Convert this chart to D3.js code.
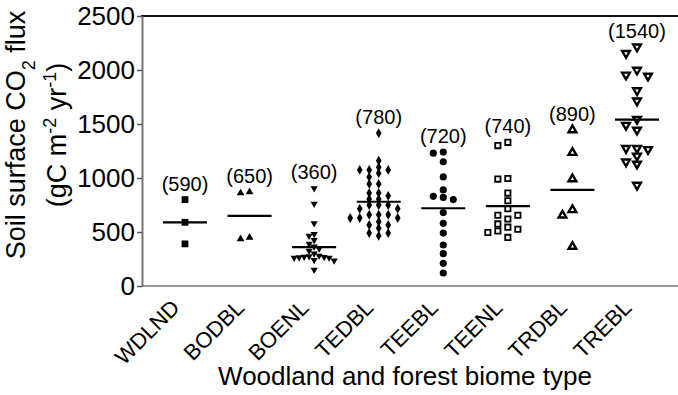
<!DOCTYPE html>
<html>
<head>
<meta charset="utf-8">
<script src="https://cdn.jsdelivr.net/npm/d3@7"></script>
<style>
  body { margin: 0; background: #fff; }
  svg { display: block; }
  text { font-family: "Liberation Sans", Arial, sans-serif; fill: #000; }
</style>
</head>
<body>
<svg id="chart" width="678" height="395"></svg>
<script>
// Biome types along the x axis
const categories = ["WDLND", "BODBL", "BOENL", "TEDBL", "TEEBL", "TEENL", "TRDBL", "TREBL"];

// Group means shown above each column (and drawn as the horizontal bar)
const meanValues = [590, 650, 360, 780, 720, 740, 890, 1540];

// Individual site observations, gC m-2 yr-1
const wdlnd = [800, 590, 390];
const bodbl = [870, 860, 450, 435];
const boenl = [905, 760, 580, 480, 465, 425, 390, 365, 345, 325, 300, 280, 275, 270, 268, 265, 262, 260, 240, 235, 150];
const tedbl = [1415, 1160, 1100, 1075, 1075, 1075, 1045, 1010, 945, 945, 860, 860, 835, 805, 805, 750, 750, 750, 715, 715, 660, 660, 660, 630, 630, 630, 595, 565, 565, 535, 490, 490, 465];
const teebl = [1240, 1230, 1150, 1010, 890, 830, 820, 800, 680, 580, 490, 380, 300, 210, 120];
const teenl = [1330, 1300, 995, 990, 860, 790, 715, 655, 655, 620, 575, 545, 525, 510, 495, 450];
const trdbl = [1445, 1235, 990, 705, 655, 365];
const trebl = [2215, 2155, 2000, 1955, 1945, 1810, 1715, 1545, 1490, 1445, 1275, 1275, 1265, 1205, 1150, 1130, 935];

const yTicks = [0, 500, 1000, 1500, 2000, 2500];

const series = [wdlnd, bodbl, boenl, tedbl, teebl, teenl, trdbl, trebl];

// Marker style for each column
const markers = [
  { shape: d3.symbolSquare,   size: 46, fill: "#000", stroke: "none", sw: 0,   rot: 0,   step: 10, h: 7 },
  { shape: d3.symbolTriangle, size: 26, fill: "#000", stroke: "none", sw: 0,   rot: 0,   step: 9,  h: 7 },
  { shape: d3.symbolTriangle, size: 22, fill: "#000", stroke: "none", sw: 0,   rot: 180, step: 5,  h: 5 },
  { shape: d3.symbolDiamond,  size: 28, fill: "#000", stroke: "none", sw: 0,   rot: 0,   step: 9.5, h: 5 },
  { shape: d3.symbolCircle,   size: 40, fill: "#000", stroke: "none", sw: 0,   rot: 0,   step: 10, h: 7 },
  { shape: d3.symbolSquare,   size: 28, fill: "#fff", stroke: "#000", sw: 1.8, rot: 0,   step: 10, h: 7 },
  { shape: d3.symbolTriangle, size: 26, fill: "#fff", stroke: "#000", sw: 2.4, rot: 0,   step: 10, h: 7 },
  { shape: d3.symbolTriangle, size: 26, fill: "#fff", stroke: "#000", sw: 2.4, rot: 180, step: 11, h: 7 }
];

const svg = d3.select("#chart");
const plotLeft = 142, plotRight = 680, plotTop = 16, plotBottom = 286;

const x = d3.scalePoint().domain(categories).range([plotLeft, plotRight]).padding(0.666);
const y = d3.scaleLinear().domain([0, 2500]).range([plotBottom, plotTop]);

// Spread points of similar value side by side, column-scatter style
function swarm(values, step, h) {
  const pts = values.map(v => ({ v, py: y(v) })).sort((a, b) => a.py - b.py);
  const placed = [];
  for (const p of pts) {
    for (let k = 0; k < 40; k++) {
      const off = k === 0 ? 0 : (k % 2 ? -Math.ceil(k / 2) : Math.ceil(k / 2));
      const dx = off * step;
      const hit = placed.some(q => Math.abs(q.dx - dx) < step * 0.5 && Math.abs(q.py - p.py) < h);
      if (!hit) { p.dx = dx; break; }
    }
    placed.push(p);
  }
  return pts;
}

// Frame: top rule and axes
svg.append("line")
  .attr("x1", plotLeft - 1).attr("x2", 678).attr("y1", plotTop).attr("y2", plotTop)
  .attr("stroke", "#111").attr("stroke-width", 2);

svg.append("line")
  .attr("x1", plotLeft).attr("x2", 678).attr("y1", plotBottom).attr("y2", plotBottom)
  .attr("stroke", "#777").attr("stroke-width", 1.6);

const yAxis = svg.append("g")
  .attr("transform", `translate(${plotLeft},0)`)
  .call(d3.axisLeft(y).tickValues(yTicks).tickFormat(d3.format("d"))
    .tickSize(5).tickPadding(2).tickSizeOuter(0));
yAxis.select(".domain").attr("stroke", "#777").attr("stroke-width", 2);
yAxis.selectAll(".tick line").attr("stroke", "#555").attr("stroke-width", 1.5);
yAxis.selectAll(".tick text")
  .style("font-family", "'Liberation Sans', Arial, sans-serif")
  .style("font-size", "26px").attr("fill", "#000");

// Points, mean bars and mean labels
categories.forEach((cat, i) => {
  const cx = x(cat);
  const m = markers[i];
  const sym = d3.symbol().type(m.shape).size(m.size);
  const pts = swarm(series[i], m.step, m.h);
  const g = svg.append("g");
  g.selectAll("path").data(pts).join("path")
    .attr("d", sym)
    .attr("transform", d => `translate(${cx + d.dx},${d.py}) rotate(${m.rot})`)
    .attr("fill", m.fill)
    .attr("stroke", m.stroke)
    .attr("stroke-width", m.sw)
    .attr("stroke-linejoin", "miter");

  g.append("line")
    .attr("x1", cx - 22).attr("x2", cx + 22)
    .attr("y1", y(meanValues[i])).attr("y2", y(meanValues[i]))
    .attr("stroke", "#000").attr("stroke-width", 2.2);

  g.append("text")
    .attr("x", cx).attr("y", y(d3.max(series[i])) - 9)
    .attr("text-anchor", "middle")
    .style("font-size", "20px")
    .text(`(${meanValues[i]})`);
});

// Rotated category labels
svg.append("g").selectAll("text").data(categories).join("text")
  .attr("transform", d => `translate(${x(d) - 4},${plotBottom + 23}) rotate(-45)`)
  .attr("text-anchor", "end")
  .style("font-size", "22px")
  .text(d => d);

// Axis titles
svg.append("text")
  .attr("x", 405).attr("y", 385)
  .attr("text-anchor", "middle")
  .style("font-size", "26px")
  .text("Woodland and forest biome type");

const yTitle = svg.append("g").attr("transform", "translate(0,135) rotate(-90)");
const t1 = yTitle.append("text").attr("x", 0).attr("y", 25)
  .attr("text-anchor", "middle").style("font-size", "27px");
t1.append("tspan").text("Soil surface CO");
t1.append("tspan").attr("baseline-shift", "sub").style("font-size", "18px").text("2");
t1.append("tspan").text(" flux");

const t2 = yTitle.append("text").attr("x", 0).attr("y", 66)
  .attr("text-anchor", "middle").style("font-size", "27px");
t2.append("tspan").text("(gC m");
t2.append("tspan").attr("baseline-shift", "super").style("font-size", "18px").text("-2");
t2.append("tspan").text(" yr");
t2.append("tspan").attr("baseline-shift", "super").style("font-size", "18px").text("-1");
t2.append("tspan").text(")");
</script>
</body>
</html>
